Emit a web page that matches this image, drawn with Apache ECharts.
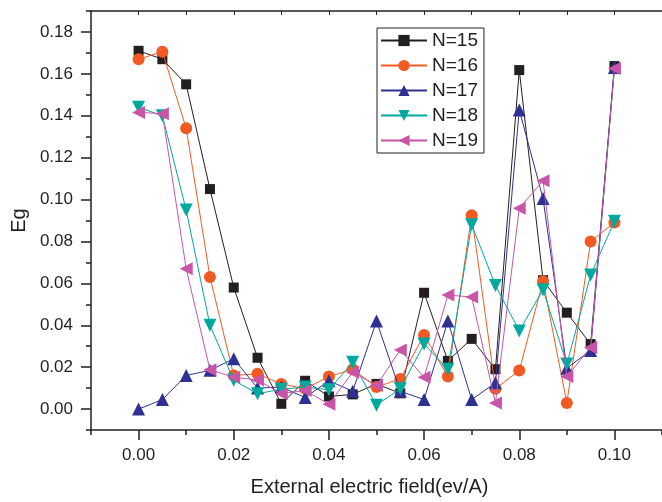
<!DOCTYPE html>
<html>
<head>
<meta charset="utf-8">
<script src="https://cdn.jsdelivr.net/npm/echarts@6/dist/echarts.min.js"></script>
<style>
html,body{margin:0;padding:0;background:#fff;}
#chart{width:662px;height:502px;}
</style>
</head>
<body>
<div id="chart"></div>
<script>
const xValues = [0, 0.005, 0.01, 0.015, 0.02, 0.025, 0.03, 0.035, 0.04, 0.045, 0.05, 0.055, 0.06, 0.065, 0.07, 0.075, 0.08, 0.085, 0.09, 0.095, 0.10];
const n15 = [0.171, 0.167, 0.155, 0.105, 0.058, 0.0245, 0.0025, 0.0135, 0.006, 0.007, 0.012, 0.0075, 0.0555, 0.023, 0.0335, 0.019, 0.1618, 0.0615, 0.046, 0.031, 0.1637];
const n16 = [0.167, 0.1705, 0.134, 0.063, 0.016, 0.0168, 0.012, 0.0097, 0.0155, 0.019, 0.0105, 0.0144, 0.0354, 0.0155, 0.0925, 0.0097, 0.0184, 0.061, 0.0029, 0.080, 0.089];
const n17 = [0.000, 0.0045, 0.016, 0.0185, 0.024, 0.010, 0.0105, 0.0055, 0.0135, 0.0085, 0.042, 0.0085, 0.0045, 0.042, 0.0045, 0.0125, 0.1428, 0.1005, 0.0195, 0.028, 0.163];
const n18 = [0.144, 0.140, 0.095, 0.040, 0.0137, 0.0073, 0.0095, 0.0105, 0.0092, 0.0223, 0.0018, 0.0097, 0.031, 0.019, 0.088, 0.059, 0.0373, 0.057, 0.0215, 0.064, 0.0897];
const n19 = [0.1416, 0.141, 0.067, 0.0187, 0.0152, 0.0139, 0.0073, 0.0089, 0.0023, 0.0176, 0.0113, 0.0282, 0.0152, 0.0544, 0.0535, 0.0029, 0.0958, 0.109, 0.0155, 0.0294, 0.1625];
const seriesNames = ['N=15', 'N=16', 'N=17', 'N=18', 'N=19'];
const xMajorTicks = [0, 0.02, 0.04, 0.06, 0.08, 0.10];
const xMinorTicks = [-0.01, 0.01, 0.03, 0.05, 0.07, 0.09, 0.11];
const xTopTicks = [0, 0.01, 0.02, 0.03, 0.04, 0.05, 0.06, 0.07, 0.08, 0.09, 0.10];
const yMajorTicks = [0, 0.02, 0.04, 0.06, 0.08, 0.10, 0.12, 0.14, 0.16, 0.18];
const yMinorTicks = [-0.01, 0.01, 0.03, 0.05, 0.07, 0.09, 0.11, 0.13, 0.15, 0.17, 0.19];

const ink = '#231f20';
const colors = ['#231f20', '#f15a22', '#2e3192', '#00a99d', '#c955a8'];
const symbols = ['rect', 'circle', 'triangle', 'path://M0,0L2,0L1,1.732Z', 'path://M0,1L1.732,0L1.732,2Z'];
const sizes = [10, 12, 13, 13, 13];
const allData = [n15, n16, n17, n18, n19];
const font = 'Liberation Sans, Arial, sans-serif';
const axisLineStyle = { color: ink, width: 1.5 };

const chart = echarts.init(document.getElementById('chart'), null, { renderer: 'canvas' });

const baseX = { type: 'value', min: -0.01, max: 0.11, splitLine: { show: false } };
const baseY = { type: 'value', min: -0.01, max: 0.19, splitLine: { show: false } };

const option = {
  animation: false,
  backgroundColor: '#fff',
  grid: { left: 91, top: 11, width: 573, height: 422, containLabel: false },
  legend: {
    data: seriesNames,
    orient: 'vertical',
    left: 377,
    top: 28,
    itemWidth: 46,
    itemHeight: 14,
    itemGap: 6,
    padding: [3, 6, 3, 3],
    borderColor: ink,
    borderWidth: 1,
    textStyle: { fontFamily: font, fontSize: 19, lineHeight: 19, color: ink }
  },
  xAxis: [
    Object.assign({}, baseX, {
      position: 'bottom',
      axisLine: { show: true, onZero: false, lineStyle: axisLineStyle },
      axisTick: { show: true, customValues: xMajorTicks, length: 10, lineStyle: axisLineStyle },
      axisLabel: { customValues: xMajorTicks, formatter: v => v.toFixed(2), margin: 17, fontFamily: font, fontSize: 17, color: ink },
      name: 'External electric field(ev/A)',
      nameLocation: 'middle',
      nameGap: 47,
      nameTextStyle: { fontFamily: font, fontSize: 20, color: ink, padding: [0, 14, 0, 0] }
    }),
    Object.assign({}, baseX, {
      position: 'bottom',
      axisLine: { show: false, onZero: false },
      axisTick: { show: true, customValues: xMinorTicks, length: 5, lineStyle: axisLineStyle },
      axisLabel: { show: false }
    }),
    Object.assign({}, baseX, {
      position: 'top',
      axisLine: { show: true, onZero: false, lineStyle: axisLineStyle },
      axisTick: { show: true, inside: true, customValues: xTopTicks, length: 4, lineStyle: { color: ink, width: 1 } },
      axisLabel: { show: false }
    })
  ],
  yAxis: [
    Object.assign({}, baseY, {
      position: 'left',
      axisLine: { show: true, onZero: false, lineStyle: axisLineStyle },
      axisTick: { show: true, customValues: yMajorTicks, length: 10, lineStyle: axisLineStyle },
      axisLabel: { customValues: yMajorTicks, formatter: v => v.toFixed(2), margin: 18, fontFamily: font, fontSize: 17, color: ink },
      name: 'Eg',
      nameLocation: 'middle',
      nameGap: 62,
      nameTextStyle: { fontFamily: font, fontSize: 20, color: ink }
    }),
    Object.assign({}, baseY, {
      position: 'left',
      axisLine: { show: false, onZero: false },
      axisTick: { show: true, customValues: yMinorTicks, length: 5, lineStyle: axisLineStyle },
      axisLabel: { show: false }
    })
  ],
  series: seriesNames.map((name, i) => ({
    name: name,
    type: 'line',
    xAxisIndex: 0,
    yAxisIndex: 0,
    data: xValues.map((x, j) => [x, allData[i][j]]),
    symbol: symbols[i],
    symbolSize: sizes[i],
    showAllSymbol: true,
    lineStyle: { color: colors[i], width: 1 },
    itemStyle: { color: colors[i] },
    emphasis: { disabled: true },
    z: 2 + i
  }))
};
chart.setOption(option);
</script>
</body>
</html>
